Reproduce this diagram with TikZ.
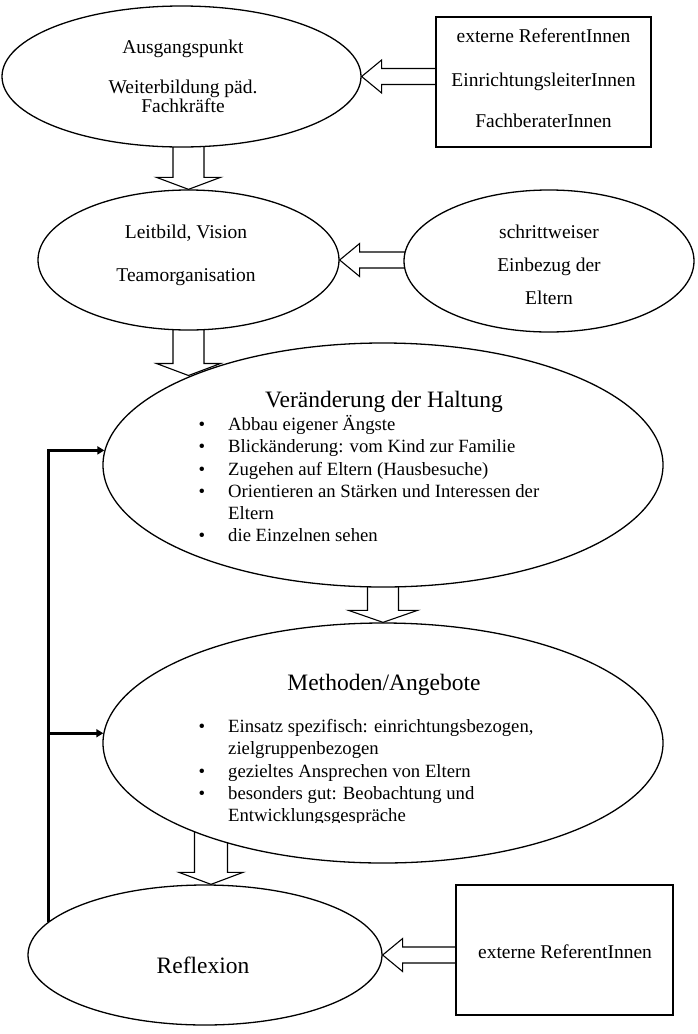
\documentclass[tikz,border=0pt]{standalone}
\usepackage{fontspec}
\setmainfont{Liberation Serif}
\usetikzlibrary{shapes.geometric,arrows.meta,calc}
\pgfdeclarelayer{bg}
\pgfsetlayers{bg,main}

\tikzset{
 ell/.style={ellipse, draw, line width=1.3pt, fill=white, inner sep=0pt},
 box/.style={rectangle, draw, line width=1.3pt, fill=white, inner sep=0pt},
 barrow/.style={draw, line width=1.1pt, fill=white, line join=miter},
 txt/.style={anchor=base, inner sep=0pt, font=\fontsize{19.5}{22}\selectfont},
 ttl/.style={anchor=base, inner sep=0pt, font=\fontsize{23.5}{27}\selectfont},
 itm/.style={anchor=base west, inner sep=0pt, font=\fontsize{18.7}{22.3}\selectfont},
 fbline/.style={line width=2.6pt, -{Triangle[length=7pt,width=8pt]}},
}

% left-pointing block arrow: #1 source anchor, #2 tip anchor
\newcommand{\leftblock}[2]{%
 \draw[barrow] let \p1=(#1), \p2=(#2) in
  (\x1+2pt,\y2+8pt) -- (\x2+20pt,\y2+8pt) -- (\x2+20pt,\y2+16.5pt) -- (\x2,\y2)
  -- (\x2+20pt,\y2-16.5pt) -- (\x2+20pt,\y2-8pt) -- (\x1+2pt,\y2-8pt) -- cycle;}
% downward block arrow: #1 x ref, #2 start ref, #3 tip ref, #4 shaft half, #5 head half
\newcommand{\downblock}[5]{%
 \draw[barrow] let \p1=(#1), \p2=(#2), \p3=(#3) in
  (\x1-#4,\y2+8pt) -- (\x1-#4,\y3+12pt) -- (\x1-#5,\y3+12pt) -- (\x1,\y3)
  -- (\x1+#5,\y3+12pt) -- (\x1+#4,\y3+12pt) -- (\x1+#4,\y2+8pt) -- cycle;}
\newcommand{\bulitem}[3]{%
 \node[itm] (#1b) at (198.5,#2) {\textbullet};
 \node[itm] (#1) at (228,#2) {#3};}

\begin{document}
\begin{tikzpicture}[x=1pt,y=-1pt]
\useasboundingbox (0,0) rectangle (698,1034);

% shapes
\node[ell, minimum width=359pt, minimum height=141pt] (e1) at (181.5,76.5) {};
\node[ell, minimum width=301pt, minimum height=140pt] (e2) at (188.5,260) {};
\node[ell, minimum width=290pt, minimum height=142pt] (e3) at (549,261) {};
\node[ell, minimum width=560pt, minimum height=244pt] (e4) at (383,465) {};
\node[ell, minimum width=560pt, minimum height=240pt] (e5) at (383,743) {};
\node[ell, minimum width=354pt, minimum height=140pt] (e6) at (205,955) {};
\node[box, minimum width=215pt, minimum height=130pt] (r1) at (543.5,82) {};
\node[box, minimum width=217pt, minimum height=130pt] (r2) at (564.5,950) {};

% block arrows (behind shapes)
\begin{pgfonlayer}{bg}
\leftblock{r1.west}{e1.east}
\leftblock{e3.west}{e2.east}
\leftblock{r2.west}{e6.east}
\downblock{e2.north}{e1.south}{e2.north}{15.5pt}{32pt}
\downblock{e2.south}{e2.south}{e4.155}{15.5pt}{32pt}
\downblock{e4.south}{e4.south}{e5.north}{15.5pt}{34.5pt}
\downblock{$(e6.north)+(6,0)$}{$(e5.south)+(0,-40)$}{e6.north}{16.5pt}{32pt}
\end{pgfonlayer}

% feedback connectors
\draw[fbline] (e6.168) |- (e4.177);
\draw[fbline] (e6.168 |- e5.178) -- (e5.178);

% texts
\node[txt] (t1a) at (183,53) {Ausgangspunkt};
\node[txt] (t1b) at (183,93) {Weiterbildung päd.};
\node[txt] (t1c) at (183,112) {Fachkräfte};

\node[txt] (r1a) at (543.5,42) {externe ReferentInnen};
\node[txt] (r1b) at (543.5,86) {EinrichtungsleiterInnen};
\node[txt] (r1c) at (543.5,127) {FachberaterInnen};

\node[txt] (t2a) at (186,238) {Leitbild, Vision};
\node[txt] (t2b) at (186,281) {Teamorganisation};

\node[txt] (t3a) at (549,238) {schrittweiser};
\node[txt] (t3b) at (549,271) {Einbezug der};
\node[txt] (t3c) at (549,304) {Eltern};

\node[ttl] (t4) at (384,407) {Veränderung der Haltung};
\bulitem{h1}{430.7}{Abbau eigener Ängste}
\bulitem{h2}{452.9}{Blickänderung: vom Kind zur Familie}
\bulitem{h3}{475.1}{Zugehen auf Eltern (Hausbesuche)}
\bulitem{h4}{497.3}{Orientieren an Stärken und Interessen der}
\node[itm] (h4b2) at (228,519.5) {Eltern};
\bulitem{h5}{541.7}{die Einzelnen sehen}

\node[ttl] (t5) at (384,690) {Methoden/Angebote};
\bulitem{m1}{732.5}{Einsatz spezifisch: einrichtungsbezogen,}
\node[itm] (m1c) at (228,754.8) {zielgruppenbezogen};
\bulitem{m2}{777.1}{gezieltes Ansprechen von Eltern}
\bulitem{m3}{799.4}{besonders gut: Beobachtung und}
\begin{scope}
\clip (220,805) rectangle (520,822.5);
\node[itm] (m3c) at (228,821.7) {Entwicklungsgespräche};
\end{scope}

\node[ttl] (t6) at (203,973) {Reflexion};
\node[txt] (r2a) at (565,958) {externe ReferentInnen};
\end{tikzpicture}
\end{document}
